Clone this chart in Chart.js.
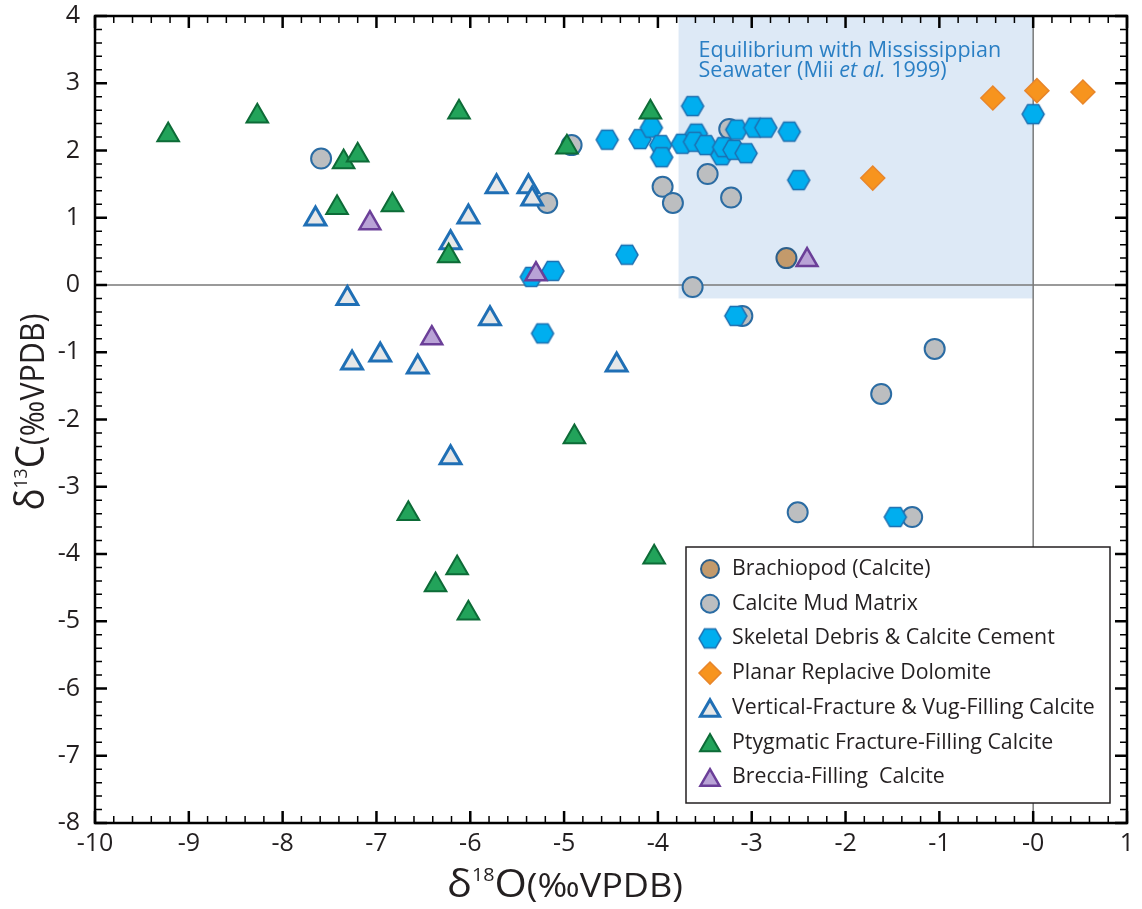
<!DOCTYPE html>
<html>
<head>
<meta charset="utf-8">
<script src="https://cdn.jsdelivr.net/npm/chart.js@4.4.1/dist/chart.umd.min.js"></script>
<style>
  html, body { margin: 0; background: #fff; }
</style>
</head>
<body>
<canvas id="isoChart" width="1142" height="909"></canvas>
<script>
// [δ18O, δ13C] pairs
const brachiopod = [[-2.63, 0.40]]
const mudMatrix = [
  [-7.59, 1.88], [-4.92, 2.08], [-5.18, 1.22], [-3.24, 2.32], [-3.47, 1.65], [-3.95, 1.46], [-3.84, 1.22],
  [-3.22, 1.30], [-3.63, -0.03], [-3.10, -0.46], [-1.05, -0.95], [-1.62, -1.62], [-2.51, -3.38], [-1.29, -3.45],
]
const skeletal = [
  [-3.63, 2.66], [-4.54, 2.16], [-4.19, 2.17], [-4.07, 2.34], [-3.97, 2.08], [-3.96, 1.90], [-3.74, 2.10],
  [-3.59, 2.25], [-3.61, 2.13], [-3.49, 2.08], [-3.32, 1.93], [-3.30, 2.05], [-3.19, 2.01], [-3.16, 2.31],
  [-3.06, 1.96], [-2.97, 2.34], [-2.85, 2.34], [-2.60, 2.28], [-2.50, 1.56], [-4.33, 0.45], [-5.12, 0.21],
  [-5.35, 0.12], [-5.23, -0.72], [-3.17, -0.46], [-1.47, -3.45], [0.00, 2.54],
]
const dolomite = [[-0.43, 2.78], [0.04, 2.89], [0.53, 2.87], [-1.71, 1.59]]
const verticalFracture = [
  [-7.65, 0.98], [-6.02, 1.01], [-6.21, 0.63], [-7.31, -0.20], [-5.72, 1.46], [-5.38, 1.46], [-5.34, 1.28],
  [-5.79, -0.50], [-7.26, -1.16], [-6.96, -1.04], [-6.56, -1.22], [-6.21, -2.57], [-4.44, -1.19],
]
const ptygmatic = [
  [-9.22, 2.23], [-8.27, 2.51], [-6.12, 2.57], [-7.35, 1.83], [-7.20, 1.93], [-7.42, 1.15], [-6.83, 1.19],
  [-6.23, 0.43], [-4.08, 2.57], [-4.97, 2.05], [-4.89, -2.26], [-6.66, -3.40], [-6.14, -4.21], [-6.37, -4.46],
  [-6.02, -4.88], [-4.04, -4.05],
]
const breccia = [[-7.07, 0.92], [-6.41, -0.79], [-5.30, 0.16], [-2.41, 0.37]]

const labels = [
  'Brachiopod (Calcite)', 'Calcite Mud Matrix', 'Skeletal Debris & Calcite Cement', 'Planar Replacive Dolomite',
  'Vertical-Fracture & Vug-Filling Calcite', 'Ptygmatic Fracture-Filling Calcite', 'Breccia-Filling  Calcite',
]
// Mii et al. 1999 seawater-equilibrium window
const seawaterX = [-3.78, 0]
const seawaterY = [-0.2, 4]

const FONT = "'Open Sans', 'Noto Sans', sans-serif"
const INK = '#231f20'

function hexagon(r, fill, stroke, lw) {
  const c = document.createElement('canvas')
  const w = 2 * Math.ceil(r + lw), h = 2 * Math.ceil(Math.sqrt(3) / 2 * r + lw)
  c.width = w; c.height = h
  const g = c.getContext('2d')
  g.beginPath()
  for (let i = 0; i < 6; i++) {
    const a = i * Math.PI / 3
    g.lineTo(w / 2 + r * Math.cos(a), h / 2 + r * Math.sin(a))
  }
  g.closePath()
  g.fillStyle = fill; g.fill()
  g.lineWidth = lw; g.strokeStyle = stroke; g.stroke()
  return c
}

const hexStyle = hexagon(11, '#00aeef', '#1d6fb0', 1.5)

const series = [
  { data: brachiopod, pointStyle: 'circle', radius: 10, bg: '#c39a6b', border: '#2d5f8a', bw: 2, order: 5 },
  { data: mudMatrix, pointStyle: 'circle', radius: 10, bg: '#bcbec0', border: '#2b6ca3', bw: 2, order: 7 },
  { data: skeletal, pointStyle: hexStyle, radius: 11, bg: '#00aeef', border: '#1d6fb0', bw: 1.5, order: 6 },
  { data: dolomite, pointStyle: 'rectRot', radius: 12, bg: '#f7941e', border: '#e8862b', bw: 1.5, order: 4 },
  { data: verticalFracture, pointStyle: 'triangle', radius: 12, bg: '#e6e7e8', border: '#1f6fb5', bw: 3, order: 3 },
  { data: ptygmatic, pointStyle: 'triangle', radius: 12.5, bg: '#22a35a', border: '#0d6b37', bw: 2, order: 2 },
  { data: breccia, pointStyle: 'triangle', radius: 12, bg: '#b9a3d6', border: '#6b3f98', bw: 2.5, order: 1 },
]

function richText(ctx, parts, cx, baseline, targetLen) {
  let total = 0
  parts.forEach(p => { ctx.font = `${p.size}px ${FONT}`; p.w = ctx.measureText(p.t).width; total += p.w })
  const k = targetLen / total
  ctx.save()
  ctx.translate(cx, baseline)
  ctx.scale(k, 1)
  let x = -total / 2
  ctx.textBaseline = 'alphabetic'
  ctx.textAlign = 'left'
  parts.forEach(p => {
    ctx.font = `${p.size}px ${FONT}`
    ctx.fillText(p.t, x, -(p.rise || 0))
    x += p.w
  })
  ctx.restore()
}

const decor = {
  id: 'decor',
  beforeDatasetsDraw(chart) {
    const { ctx, chartArea: a, scales: { x, y } } = chart
    ctx.save()
    // seawater window
    const sx0 = x.getPixelForValue(seawaterX[0]), sx1 = x.getPixelForValue(seawaterX[1])
    const sy0 = y.getPixelForValue(seawaterY[1]), sy1 = y.getPixelForValue(seawaterY[0])
    ctx.fillStyle = '#dde9f6'
    ctx.fillRect(sx0, sy0, sx1 - sx0, sy1 - sy0)
    ctx.fillStyle = '#2a7fc4'
    ctx.textBaseline = 'alphabetic'
    ctx.font = `21.5px ${FONT}`
    ctx.fillText('Equilibrium with Mississippian', sx0 + 20, 57)
    let tx = sx0 + 20
    const line2 = [['Seawater (Mii ', ''], ['et al.', 'italic '], [' 1999)', '']]
    line2.forEach(([t, st]) => {
      ctx.font = `${st}21.5px ${FONT}`
      ctx.fillText(t, tx, 77)
      tx += ctx.measureText(t).width
    })
    // zero lines
    ctx.strokeStyle = '#7a7a7a'
    ctx.lineWidth = 1.5
    ctx.beginPath()
    ctx.moveTo(a.left, y.getPixelForValue(0)); ctx.lineTo(a.right, y.getPixelForValue(0))
    ctx.moveTo(x.getPixelForValue(0), a.top); ctx.lineTo(x.getPixelForValue(0), a.bottom)
    ctx.stroke()
    ctx.restore()
  },
  afterDatasetsDraw(chart) {
    const { ctx, chartArea: a, scales: { x, y } } = chart
    ctx.save()
    // legend
    const L = { l: 686, t: 547, r: 1110, b: 803 }
    ctx.fillStyle = '#fff'
    ctx.fillRect(L.l, L.t, L.r - L.l, L.b - L.t)
    ctx.strokeStyle = INK
    ctx.lineWidth = 1.5
    ctx.strokeRect(L.l, L.t, L.r - L.l, L.b - L.t)
    series.forEach((s, i) => {
      const cy = 569 + i * 34.7
      ctx.fillStyle = s.bg
      ctx.strokeStyle = s.border
      ctx.lineWidth = s.bw
      Chart.helpers.drawPoint(ctx, { pointStyle: s.pointStyle, radius: s.radius - 1, borderWidth: s.bw, rotation: 0 }, 710, cy + (s.pointStyle === 'triangle' ? 3 : 0))
      ctx.fillStyle = INK
      ctx.font = `21.3px ${FONT}`
      ctx.textBaseline = 'middle'
      ctx.fillText(labels[i], 732, cy)
    })
    // frame
    ctx.strokeStyle = '#000'
    ctx.lineWidth = 2.5
    ctx.strokeRect(a.left, a.top, a.right - a.left, a.bottom - a.top)
    // inward ticks every 0.2
    const tick = (i) => i % 5 === 0 ? [12, 2.5] : [7, 1.5]
    for (let i = x.min * 5; i <= x.max * 5; i++) {
      const px = x.getPixelForValue(i / 5)
      const [len, lw] = tick(Math.abs(i))
      ctx.lineWidth = lw
      ctx.beginPath()
      ctx.moveTo(px, a.bottom); ctx.lineTo(px, a.bottom - len)
      ctx.moveTo(px, a.top); ctx.lineTo(px, a.top + len)
      ctx.stroke()
    }
    for (let i = y.min * 5; i <= y.max * 5; i++) {
      const py = y.getPixelForValue(i / 5)
      const [len, lw] = tick(Math.abs(i))
      ctx.lineWidth = lw
      ctx.beginPath()
      ctx.moveTo(a.left, py); ctx.lineTo(a.left + len, py)
      ctx.moveTo(a.right, py); ctx.lineTo(a.right - len, py)
      ctx.stroke()
    }
    ctx.restore()
  },
  afterDraw(chart) {
    const { ctx } = chart
    ctx.save()
    ctx.fillStyle = INK
    richText(ctx, [
      { t: 'δ', size: 38 }, { t: '18', size: 18, rise: 16 }, { t: 'O', size: 38 }, { t: '(‰VPDB)', size: 33 },
    ], 565, 897, 236)
    ctx.translate(44, 412)
    ctx.rotate(-Math.PI / 2)
    richText(ctx, [
      { t: 'δ', size: 40 }, { t: '13', size: 19, rise: 17 }, { t: 'C', size: 40 }, { t: '(‰VPDB)', size: 33 },
    ], 0, 0, 197)
    ctx.restore()
  },
}

new Chart(document.getElementById('isoChart'), {
  type: 'scatter',
  data: {
    datasets: series.map((s, i) => ({
      label: labels[i],
      data: s.data.map(([x, y]) => ({ x, y })),
      pointStyle: s.pointStyle,
      pointRadius: s.radius,
      pointBackgroundColor: s.bg,
      pointBorderColor: s.border,
      pointBorderWidth: s.bw,
      order: s.order,
    })),
  },
  options: {
    responsive: false,
    animation: false,
    devicePixelRatio: 1,
    layout: { padding: { left: 15, right: 13, top: 16, bottom: 0 } },
    plugins: { legend: { display: false }, tooltip: { enabled: false } },
    scales: {
      x: {
        type: 'linear', min: -10, max: 1,
        border: { display: false },
        grid: { display: false, drawTicks: false },
        ticks: { stepSize: 1, padding: 6, color: INK, font: { family: FONT, size: 25 },
          callback: v => v === 0 ? '-0' : String(v) },
        afterFit: s => { s.height = 86 },
      },
      y: {
        type: 'linear', min: -8, max: 4,
        border: { display: false },
        grid: { display: false, drawTicks: false },
        // lineHeight 0 keeps the top label from pushing the plot area down
        ticks: { stepSize: 1, padding: 15, color: INK, font: { family: FONT, size: 25, lineHeight: 0 } },
        afterFit: s => { s.width = 80 },
      },
    },
  },
  plugins: [decor],
})
</script>
</body>
</html>
